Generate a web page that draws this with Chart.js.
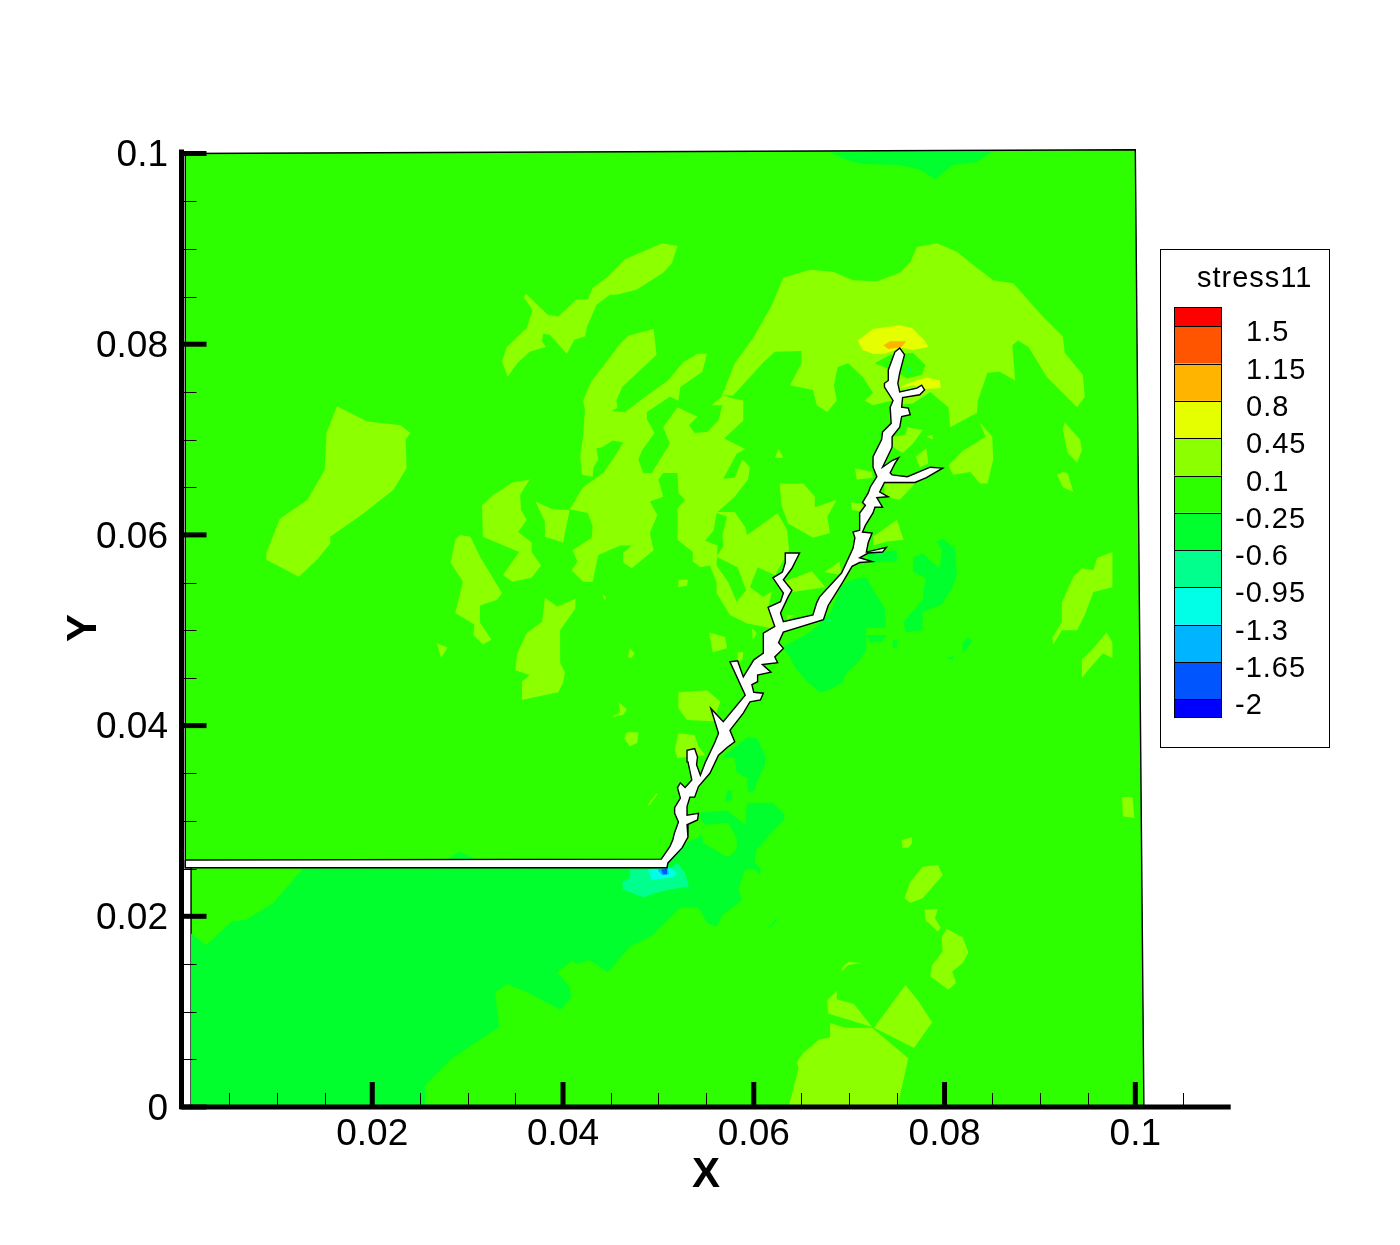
<!DOCTYPE html>
<html>
<head>
<meta charset="utf-8">
<title>stress11</title>
<script src="https://cdn.jsdelivr.net/npm/chart.js@4/dist/chart.umd.min.js"></script>
<style>
html, body { margin: 0; background: #fff; }
canvas { display: block; }
</style>
</head>
<body>
<canvas id="contour" width="1400" height="1245"></canvas>
<script>
// ticks
const xTicks = [0.02, 0.04, 0.06, 0.08, 0.1];
const yTicks = [0, 0.02, 0.04, 0.06, 0.08, 0.1];
const xMinor = [.005,.01,.015,.025,.03,.035,.045,.05,.055,.065,.07,.075,.085,.09,.095,.105];
const yMinor = [.005,.01,.015,.025,.03,.035,.045,.05,.055,.065,.07,.075,.085,.09,.095];

// legend levels and band colours, top to bottom
const levels = ['1.5','1.15','0.8','0.45','0.1','-0.25','-0.6','-0.95','-1.3','-1.65','-2'];
const bandColors = ['#ff0000','#ff5500','#ffb400','#e6ff00','#8cff00','#2dff00','#00ff2d','#00ff8c','#00ffe6','#00b4ff','#0055ff','#0000ff'];

// contour regions, [x, y] in metres
const domain = [[.0004,.1000],[.1000,.1004],[.1009,0],[.0010,0],[.0010,.0251],[.0004,.0251]];

const crack = [[.0004,.0259],[.0503,.0260],[.0512,.0273],[.0515,.0280],[.0517,.0288],[.0521,.0299],[.0517,.0308],[.0517,.0314],[.0523,.0324],[.0520,.0335],[.0523,.0340],[.0528,.0335],[.0535,.0343],[.0531,.0362],[.0530,.0374],[.0538,.0376],[.0541,.0367],[.0540,.0359],[.0544,.0348],[.0549,.0361],[.0559,.0382],[.0563,.0392],[.0555,.0418],[.0568,.0404],[.0591,.0432],[.0575,.0467],[.0583,.0468],[.0589,.0451],[.0600,.0469],[.0610,.0476],[.0610,.0497],[.0622,.0504],[.0615,.0524],[.0628,.0530],[.0631,.0539],[.0620,.0555],[.0630,.0561],[.0633,.0571],[.0633,.0581],[.0648,.0581],[.0640,.0565],[.0631,.0553],[.0640,.0542],[.0636,.0535],[.0628,.0518],[.0631,.0509],[.0662,.0516],[.0666,.0529],[.0669,.0535],[.0692,.0560],[.0704,.0586],[.0706,.0597],[.0704,.0603],[.0711,.0605],[.0711,.0623],[.0717,.0631],[.0714,.0634],[.0720,.0644],[.0722,.0650],[.0729,.0661],[.0725,.0671],[.0725,.0682],[.0734,.0700],[.0735,.0708],[.0744,.0717],[.0743,.0734],[.0746,.0741],[.0737,.0755],[.0737,.0759],[.0741,.0762],[.0741,.0773],[.0748,.0792],[.0753,.0796],[.0758,.0789],[.0753,.0770],[.0751,.0759],[.0753,.0750],[.0771,.0754],[.0776,.0757],[.0779,.0752],[.0774,.0747],[.0756,.0744],[.0755,.0734],[.0762,.0733],[.0764,.0726],[.0755,.0724],[.0753,.0713],[.0745,.0703],[.0745,.0692],[.0735,.0671],[.0745,.0678],[.0752,.0681],[.0748,.0675],[.0743,.0665],[.0745,.0663],[.0761,.0661],[.0785,.0671],[.0798,.0670],[.0781,.0660],[.0769,.0655],[.0737,.0655],[.0732,.0645],[.0741,.0640],[.0729,.0639],[.0735,.0629],[.0727,.0629],[.0725,.0623],[.0717,.0610],[.0714,.0603],[.0724,.0602],[.0720,.0592],[.0718,.0582],[.0739,.0587],[.0735,.0582],[.0720,.0581],[.0711,.0576],[.0724,.0572],[.0711,.0571],[.0703,.0567],[.0693,.0550],[.0678,.0526],[.0673,.0511],[.0631,.0498],[.0626,.0487],[.0631,.0481],[.0622,.0472],[.0625,.0466],[.0609,.0464],[.0618,.0456],[.0604,.0453],[.0604,.0446],[.0598,.0443],[.0600,.0435],[.0610,.0434],[.0607,.0427],[.0596,.0425],[.0589,.0413],[.0575,.0395],[.0580,.0383],[.0572,.0377],[.0563,.0369],[.0554,.0350],[.0542,.0336],[.0538,.0325],[.0533,.0325],[.0530,.0315],[.0530,.0306],[.0542,.0308],[.0541,.0301],[.0530,.0296],[.0531,.0283],[.0525,.0272],[.0510,.0256],[.0509,.0251],[.0004,.0251]];

// -0.25 band
const lowerBand = [[.0127,.0250],[.0096,.0214],[.0067,.0196],[.0053,.0195],[.0026,.0170],[.0010,.0182],[.0010,0],[.0256,0],[.0255,.0022],[.0284,.0051],[.0333,.0084],[.0329,.0120],[.0341,.0129],[.0363,.0120],[.0397,.0102],[.0409,.0115],[.0407,.0126],[.0394,.0141],[.0410,.0154],[.0413,.0150],[.0428,.0154],[.0447,.0141],[.0470,.0168],[.0494,.0180],[.0499,.0186],[.0523,.0209],[.0542,.0209],[.0551,.0193],[.0561,.0189],[.0567,.0201],[.0588,.0217],[.0584,.0228],[.0591,.0249],[.0601,.0249],[.0607,.0243],[.0607,.0251],[.0601,.0256],[.0603,.0270],[.0612,.0280],[.0631,.0301],[.0633,.0306],[.0620,.0319],[.0593,.0319],[.0591,.0296],[.0572,.0311],[.0546,.0309],[.0542,.0306],[.0549,.0296],[.0573,.0298],[.0582,.0282],[.0582,.0270],[.0573,.0262],[.0547,.0277],[.0546,.0285],[.0531,.0278],[.0525,.0272],[.0510,.0256],[.0509,.0251]];
const topBand = [[.0680,.1001],[.0698,.0993],[.0715,.0989],[.0753,.0988],[.0774,.0983],[.0790,.0973],[.0809,.0988],[.0834,.0991],[.0850,.1002]];
const coolPatches = [
  [[.0279,.0260],[.0292,.0268],[.0308,.0260],[.0308,.0251],[.0279,.0251]],
  [[.0792,.0593],[.0798,.0596],[.0811,.0586],[.0813,.0558],[.0808,.0544],[.0797,.0527],[.0777,.0519],[.0777,.0500],[.0759,.0498],[.0757,.0509],[.0777,.0532],[.0780,.0555],[.0767,.0561],[.0767,.0576],[.0777,.0581],[.0787,.0571],[.0795,.0565],[.0797,.0584]],
  [[.0718,.0556],[.0727,.0539],[.0737,.0524],[.0739,.0503],[.0718,.0502],[.0718,.0479],[.0709,.0466],[.0697,.0455],[.0693,.0445],[.0678,.0437],[.0669,.0435],[.0656,.0446],[.0643,.0461],[.0638,.0472],[.0630,.0482],[.0648,.0492],[.0659,.0498],[.0680,.0518],[.0692,.0547],[.0703,.0553]],
  [[.0718,.0495],[.0739,.0495],[.0735,.0488],[.0722,.0487]],
  [[.0746,.0490],[.0750,.0490],[.0750,.0482],[.0746,.0482]],
  [[.0819,.0487],[.0825,.0493],[.0829,.0488],[.0819,.0476]],
  [[.0802,.0470],[.0809,.0473],[.0809,.0469]],
  [[.0718,.0581],[.0750,.0584],[.0750,.0572],[.0727,.0571],[.0720,.0572]],
  [[.0650,.0586],[.0669,.0577],[.0650,.0572]],
  [[.0614,.0186],[.0622,.0196],[.0625,.0196],[.0618,.0189]],
  [[.0568,.0367],[.0593,.0388],[.0603,.0387],[.0612,.0369],[.0612,.0359],[.0603,.0340],[.0601,.0332],[.0594,.0330],[.0593,.0345],[.0582,.0351],[.0580,.0366]],
  [[.0572,.0332],[.0577,.0332],[.0577,.0322],[.0570,.0320]]
];

// 0.45 band, the big arch and the block left of the crack
const lightArch = [[.0495,.0816],[.0468,.0809],[.0457,.0797],[.0449,.0786],[.0429,.0760],[.0421,.0741],[.0423,.0731],[.0421,.0703],[.0418,.0682],[.0420,.0663],[.0431,.0661],[.0432,.0671],[.0437,.0679],[.0435,.0691],[.0441,.0692],[.0452,.0699],[.0463,.0697],[.0452,.0679],[.0442,.0665],[.0421,.0650],[.0407,.0627],[.0426,.0623],[.0431,.0609],[.0430,.0597],[.0410,.0584],[.0415,.0572],[.0409,.0563],[.0421,.0551],[.0431,.0551],[.0437,.0579],[.0460,.0589],[.0472,.0589],[.0463,.0581],[.0463,.0571],[.0472,.0565],[.0495,.0584],[.0491,.0602],[.0499,.0621],[.0491,.0635],[.0505,.0640],[.0500,.0658],[.0505,.0665],[.0520,.0665],[.0521,.0644],[.0528,.0637],[.0520,.0628],[.0520,.0595],[.0536,.0582],[.0536,.0572],[.0544,.0566],[.0554,.0568],[.0561,.0550],[.0561,.0539],[.0575,.0516],[.0593,.0507],[.0604,.0505],[.0628,.0500],[.0648,.0505],[.0669,.0521],[.0711,.0605],[.0732,.0658],[.0745,.0741],[.0753,.0736],[.0767,.0738],[.0785,.0750],[.0804,.0734],[.0806,.0713],[.0834,.0728],[.0835,.0741],[.0845,.0770],[.0858,.0771],[.0874,.0762],[.0871,.0799],[.0877,.0804],[.0888,.0797],[.0907,.0766],[.0939,.0734],[.0947,.0745],[.0945,.0768],[.0926,.0791],[.0924,.0808],[.0903,.0829],[.0872,.0864],[.0851,.0867],[.0830,.0883],[.0813,.0897],[.0792,.0906],[.0771,.0902],[.0764,.0886],[.0753,.0875],[.0729,.0866],[.0704,.0867],[.0683,.0876],[.0659,.0878],[.0631,.0870],[.0619,.0841],[.0599,.0806],[.0580,.0780],[.0567,.0747],[.0565,.0744],[.0556,.0736],[.0567,.0736],[.0563,.0720],[.0551,.0708],[.0538,.0707],[.0532,.0715],[.0541,.0724],[.0520,.0734],[.0505,.0713],[.0512,.0696],[.0493,.0665],[.0484,.0665],[.0479,.0679],[.0483,.0689],[.0496,.0707],[.0488,.0721],[.0488,.0729],[.0512,.0745],[.0521,.0741],[.0523,.0755],[.0546,.0771],[.0551,.0790],[.0541,.0790],[.0526,.0781],[.0510,.0762],[.0499,.0754],[.0478,.0739],[.0465,.0729],[.0451,.0730],[.0457,.0733],[.0456,.0741],[.0462,.0755],[.0478,.0770],[.0498,.0789]];

// 0.1 band showing through the arch
const archHoles = [
  [[.0650,.0793],[.0622,.0792],[.0610,.0781],[.0591,.0760],[.0578,.0746],[.0567,.0747],[.0578,.0743],[.0589,.0741],[.0589,.0720],[.0569,.0701],[.0591,.0690],[.0582,.0685],[.0568,.0659],[.0580,.0660],[.0588,.0679],[.0596,.0671],[.0594,.0658],[.0580,.0640],[.0562,.0624],[.0580,.0624],[.0591,.0608],[.0593,.0600],[.0625,.0623],[.0635,.0605],[.0637,.0584],[.0624,.0561],[.0622,.0553],[.0615,.0524],[.0628,.0500],[.0648,.0505],[.0669,.0521],[.0711,.0605],[.0732,.0658],[.0745,.0741],[.0725,.0736],[.0716,.0741],[.0725,.0749],[.0714,.0766],[.0699,.0780],[.0688,.0776],[.0684,.0757],[.0687,.0741],[.0677,.0729],[.0666,.0736],[.0662,.0752],[.0638,.0757],[.0650,.0780]],
  [[.0561,.0623],[.0572,.0619],[.0567,.0600],[.0568,.0588],[.0561,.0577],[.0583,.0566],[.0592,.0542],[.0582,.0530],[.0573,.0551],[.0561,.0568],[.0562,.0589],[.0549,.0594],[.0558,.0605]],
  [[.0604,.0566],[.0596,.0545],[.0610,.0535],[.0624,.0544],[.0622,.0558]],
  [[.0727,.0780],[.0743,.0789],[.0767,.0791],[.0780,.0778],[.0776,.0768],[.0761,.0764],[.0750,.0770]]
];

const lightPatches = [
  [[.0163,.0735],[.0195,.0719],[.0230,.0715],[.0240,.0707],[.0235,.0700],[.0236,.0670],[.0222,.0647],[.0190,.0622],[.0156,.0598],[.0156,.0591],[.0142,.0574],[.0123,.0556],[.0089,.0574],[.0089,.0581],[.0103,.0617],[.0132,.0637],[.0150,.0668],[.0152,.0707]],
  [[.0520,.0903],[.0514,.0885],[.0505,.0875],[.0477,.0857],[.0456,.0852],[.0449,.0852],[.0435,.0841],[.0425,.0818],[.0423,.0808],[.0412,.0805],[.0404,.0790],[.0386,.0810],[.0379,.0811],[.0378,.0803],[.0382,.0797],[.0365,.0792],[.0352,.0780],[.0342,.0766],[.0336,.0782],[.0341,.0797],[.0362,.0817],[.0368,.0836],[.0359,.0849],[.0361,.0853],[.0384,.0831],[.0395,.0829],[.0414,.0847],[.0426,.0847],[.0431,.0859],[.0446,.0870],[.0465,.0889],[.0483,.0897],[.0504,.0906]],
  [[.0627,.0654],[.0652,.0654],[.0664,.0640],[.0664,.0629],[.0687,.0637],[.0677,.0619],[.0680,.0602],[.0662,.0597],[.0636,.0612],[.0629,.0631]],
  [[.0626,.0690],[.0631,.0681],[.0622,.0681]],
  [[.0706,.0670],[.0724,.0666],[.0725,.0660],[.0708,.0658]],
  [[.0702,.0634],[.0714,.0633],[.0715,.0624],[.0703,.0626]],
  [[.0725,.0598],[.0750,.0616],[.0757,.0595],[.0740,.0593],[.0725,.0589]],
  [[.0631,.0551],[.0661,.0562],[.0675,.0545],[.0633,.0539]],
  [[.0674,.0561],[.0690,.0572],[.0692,.0558]],
  [[.0635,.0516],[.0643,.0516],[.0635,.0511]],
  [[.0837,.0718],[.0850,.0703],[.0851,.0679],[.0845,.0654],[.0837,.0654],[.0827,.0666],[.0809,.0663],[.0804,.0673],[.0820,.0689],[.0832,.0696],[.0843,.0703]],
  [[.0926,.0718],[.0942,.0700],[.0944,.0689],[.0939,.0676],[.0929,.0686],[.0924,.0710]],
  [[.0924,.0666],[.0929,.0665],[.0935,.0645],[.0924,.0650],[.0918,.0663]],
  [[.0737,.0654],[.0769,.0654],[.0753,.0637],[.0737,.0640]],
  [[.0770,.0682],[.0781,.0691],[.0783,.0675],[.0774,.0671]],
  [[.0781,.0703],[.0787,.0705],[.0788,.0700]],
  [[.0761,.0713],[.0777,.0710],[.0767,.0696],[.0756,.0686],[.0746,.0692],[.0746,.0703],[.0759,.0705]],
  [[.0976,.0582],[.0976,.0545],[.0956,.0540],[.0947,.0516],[.0939,.0500],[.0923,.0500],[.0914,.0485],[.0913,.0492],[.0923,.0509],[.0923,.0529],[.0935,.0556],[.0944,.0565],[.0956,.0563],[.0960,.0576]],
  [[.0970,.0498],[.0976,.0487],[.0976,.0471],[.0966,.0476],[.0952,.0460],[.0944,.0450],[.0944,.0469],[.0956,.0481]],
  [[.0755,.0280],[.0766,.0283],[.0766,.0277],[.0762,.0272],[.0756,.0272]],
  [[.0777,.0252],[.0793,.0254],[.0798,.0243],[.0777,.0219],[.0764,.0214],[.0758,.0219],[.0764,.0236]],
  [[.0779,.0207],[.0793,.0208],[.0790,.0198],[.0796,.0188],[.0793,.0184],[.0780,.0196]],
  [[.0802,.0187],[.0819,.0178],[.0825,.0162],[.0819,.0151],[.0808,.0142],[.0812,.0130],[.0804,.0123],[.0785,.0137],[.0787,.0149],[.0798,.0163],[.0797,.0178]],
  [[.0759,.0128],[.0772,.0112],[.0787,.0089],[.0768,.0062],[.0726,.0083]],
  [[.0687,.0122],[.0687,.0113],[.0705,.0108],[.0724,.0084],[.0678,.0098],[.0677,.0112]],
  [[.0680,.0088],[.0696,.0083],[.0724,.0083],[.0762,.0051],[.0751,.0002],[.0637,.0002],[.0647,.0041],[.0645,.0047],[.0652,.0057],[.0669,.0071],[.0680,.0073]],
  [[.0699,.0152],[.0713,.0151],[.0699,.0149],[.0692,.0142],[.0693,.0147]],
  [[.0986,.0325],[.0997,.0325],[.0999,.0303],[.0987,.0305]],
  [[.0292,.0600],[.0303,.0598],[.0313,.0577],[.0336,.0539],[.0331,.0532],[.0313,.0526],[.0313,.0508],[.0325,.0490],[.0316,.0485],[.0306,.0495],[.0307,.0506],[.0287,.0518],[.0295,.0551],[.0282,.0571],[.0287,.0595]],
  [[.0315,.0631],[.0327,.0642],[.0347,.0655],[.0365,.0658],[.0355,.0642],[.0356,.0626],[.0362,.0616],[.0353,.0603],[.0367,.0592],[.0367,.0582],[.0377,.0568],[.0367,.0555],[.0347,.0551],[.0337,.0558],[.0354,.0582],[.0316,.0598]],
  [[.0381,.0534],[.0394,.0525],[.0413,.0533],[.0413,.0523],[.0397,.0500],[.0397,.0466],[.0402,.0456],[.0400,.0445],[.0395,.0435],[.0358,.0427],[.0357,.0446],[.0365,.0453],[.0350,.0458],[.0352,.0476],[.0362,.0497],[.0378,.0509]],
  [[.0371,.0635],[.0389,.0627],[.0407,.0626],[.0400,.0592],[.0381,.0598],[.0381,.0614]],
  [[.0268,.0486],[.0279,.0482],[.0272,.0471]],
  [[.0441,.0538],[.0445,.0535],[.0444,.0531]],
  [[.0470,.0481],[.0475,.0476],[.0472,.0471],[.0468,.0472]],
  [[.0458,.0425],[.0467,.0417],[.0463,.0411],[.0451,.0409],[.0460,.0414]],
  [[.0467,.0393],[.0479,.0393],[.0478,.0382],[.0470,.0378],[.0464,.0387]],
  [[.0521,.0553],[.0531,.0553],[.0530,.0547],[.0521,.0545]],
  [[.0553,.0498],[.0570,.0493],[.0572,.0481],[.0557,.0477]],
  [[.0583,.0477],[.0589,.0477],[.0588,.0469],[.0583,.0467]],
  [[.0598,.0502],[.0603,.0497],[.0599,.0490]],
  [[.0521,.0435],[.0551,.0437],[.0565,.0425],[.0558,.0406],[.0568,.0404],[.0530,.0406],[.0521,.0418]],
  [[.0521,.0392],[.0538,.0390],[.0542,.0378],[.0549,.0369],[.0520,.0366],[.0517,.0374]],
  [[.0489,.0317],[.0498,.0329],[.0499,.0328],[.0490,.0316]]
];

// 0.8 and 1.15 spots at the upper crack tip
const yellowSpots = [
  [[.0709,.0804],[.0725,.0816],[.0753,.0820],[.0766,.0817],[.0779,.0804],[.0783,.0797],[.0767,.0794],[.0756,.0796],[.0737,.0790],[.0725,.0790],[.0714,.0794]],
  [[.0753,.0754],[.0762,.0759],[.0781,.0765],[.0795,.0762],[.0796,.0754],[.0781,.0753],[.0767,.0757]]
];
const orangeSpot = [[.0736,.0799],[.0743,.0803],[.0760,.0803],[.0755,.0797],[.0741,.0795]];

// stress concentration at the notch tip
const notchBand1 = [[.0470,.0249],[.0491,.0249],[.0510,.0249],[.0520,.0256],[.0528,.0245],[.0532,.0231],[.0512,.0228],[.0499,.0225],[.0484,.0220],[.0463,.0228],[.0462,.0236],[.0470,.0240]];
const notchBand2 = [[.0489,.0249],[.0512,.0251],[.0520,.0245],[.0515,.0241],[.0507,.0240],[.0493,.0238]];
const notchBand3 = [[.0499,.0249],[.0510,.0251],[.0511,.0244],[.0504,.0243]];
const notchBand4 = [[.0503,.0249],[.0509,.0250],[.0509,.0244],[.0505,.0244]];
const tinySpots = [
  [[.0761,.0776],[.0766,.0773],[.0763,.0771]],
  [[.0677,.0511],[.0683,.0510],[.0683,.0509],[.0677,.0510]]
];

const base = bandColors[5], light = bandColors[4], cool = bandColors[6], cool2 = bandColors[7];

// drawing order, bottom to top
const layers = [
  { pts: domain, color: base, outline: true },
  { pts: lowerBand, color: cool },
  { pts: topBand, color: cool },
  ...coolPatches.map(p => ({ pts: p, color: cool })),
  { pts: lightArch, color: light },
  ...archHoles.map(p => ({ pts: p, color: base })),
  ...lightPatches.map(p => ({ pts: p, color: light })),
  ...yellowSpots.map(p => ({ pts: p, color: bandColors[3] })),
  { pts: orangeSpot, color: bandColors[2] },
  ...tinySpots.map(p => ({ pts: p, color: cool2 })),
  { pts: notchBand1, color: cool2 },
  { pts: notchBand2, color: bandColors[8] },
  { pts: notchBand3, color: bandColors[9] },
  { pts: notchBand4, color: bandColors[10] },
  { pts: crack, color: '#ffffff', outline: true }
];

const datasets = layers.map((l, i) => {
  const closed = l.pts.concat([l.pts[0]]);
  return {
    data: closed.map(p => ({ x: p[0], y: p[1] })),
    showLine: true,
    fill: 'shape',
    backgroundColor: l.color,
    borderColor: l.outline ? '#000000' : l.color,
    borderWidth: l.outline ? 1.4 : 0,
    pointRadius: 0,
    tension: 0,
    clip: false,
    order: layers.length - i   // chart.js paints high order first
  };
});

// tecplot style axes: ticks inside the frame
const axesPlugin = {
  id: 'innerAxes',
  afterDatasetsDraw(chart) {
    const c = chart.ctx, xs = chart.scales.x, ys = chart.scales.y;
    const x0 = xs.getPixelForValue(0), y0 = ys.getPixelForValue(0);
    c.save();
    c.strokeStyle = '#000';
    c.lineWidth = 1;
    xMinor.forEach(v => {
      const p = Math.round(xs.getPixelForValue(v)) + 0.5;
      c.beginPath(); c.moveTo(p, y0); c.lineTo(p, y0 - 14); c.stroke();
    });
    yMinor.forEach(v => {
      const p = Math.round(ys.getPixelForValue(v)) + 0.5;
      c.beginPath(); c.moveTo(x0, p); c.lineTo(x0 + 15, p); c.stroke();
    });
    c.lineWidth = 5;
    xTicks.forEach(v => {
      const p = xs.getPixelForValue(v);
      c.beginPath(); c.moveTo(p, y0); c.lineTo(p, y0 - 25); c.stroke();
    });
    yTicks.forEach(v => {
      const p = ys.getPixelForValue(v);
      c.beginPath(); c.moveTo(x0, p); c.lineTo(x0 + 25, p); c.stroke();
    });
    c.beginPath();
    c.moveTo(x0, y0 + 2);
    c.lineTo(x0, ys.getPixelForValue(0.1) - 4);
    c.moveTo(x0 - 2, y0);
    c.lineTo(xs.getPixelForValue(0.11), y0);
    c.stroke();
    c.restore();
  }
};

const legendPlugin = {
  id: 'bandLegend',
  afterDraw(chart) {
    const c = chart.ctx;
    const boxLeft = 1160.5, boxTop = 249.5, barLeft = 1174, barW = 48;
    const top = 307.3, first = 326.3, step = 37.3;
    c.save();
    c.fillStyle = '#fff';
    c.strokeStyle = '#000';
    c.lineWidth = 1;
    c.fillRect(boxLeft, boxTop, 169, 498);
    c.strokeRect(boxLeft, boxTop, 169, 498);
    c.fillStyle = '#000';
    c.font = '29px "Liberation Sans"';
    c.letterSpacing = '1px';
    c.textBaseline = 'alphabetic';
    c.textAlign = 'left';
    c.fillText('stress11', 1197, 287);
    bandColors.forEach((col, i) => {
      const y1 = i === 0 ? top : first + (i - 1) * step;
      const y2 = i === bandColors.length - 1 ? 717.3 : first + i * step;
      c.fillStyle = col;
      c.fillRect(barLeft, y1, barW, y2 - y1);
      c.strokeRect(barLeft + 0.5, Math.round(y1) + 0.5, barW - 1, Math.round(y2) - Math.round(y1));
    });
    c.fillStyle = '#000';
    levels.forEach((t, i) => {
      const x = t[0] === '-' ? 1235 : 1246;
      c.fillText(t, x, first + i * step + 15);
    });
    c.restore();
  }
};

new Chart(document.getElementById('contour'), {
  type: 'scatter',
  data: { datasets },
  plugins: [axesPlugin, legendPlugin],
  options: {
    responsive: false,
    animation: false,
    layout: { padding: { left: 0, top: 148.75, right: 169.3, bottom: 0 } },
    plugins: { legend: { display: false }, tooltip: { enabled: false } },
    scales: {
      x: {
        type: 'linear',
        min: 0,
        max: 0.11,
        grid: { display: false },
        border: { display: false },
        afterFit(s) { s.height = 138; },
        afterBuildTicks(s) { s.ticks = xTicks.map(v => ({ value: v })); },
        ticks: {
          autoSkip: false, maxRotation: 0, padding: -2, color: '#000',
          font: { family: 'Liberation Sans', size: 37 },
          callback: v => String(v)
        },
        title: {
          display: true, text: 'X', color: '#000', padding: { top: 0, bottom: 44 },
          font: { family: 'Liberation Sans', size: 42, weight: 'bold' }
        }
      },
      y: {
        type: 'linear',
        min: 0,
        max: 0.1005,
        grid: { display: false },
        border: { display: false },
        afterFit(s) { s.width = 181.5; },
        afterBuildTicks(s) { s.ticks = yTicks.map(v => ({ value: v })); },
        ticks: {
          autoSkip: false, padding: 5.5, labelOffset: 2.5, color: '#000',
          font: { family: 'Liberation Sans', size: 37 },
          callback: v => String(v)
        },
        title: {
          display: true, text: 'Y', color: '#000', padding: { top: 59, bottom: 0 },
          font: { family: 'Liberation Sans', size: 42, weight: 'bold' }
        }
      }
    }
  }
});
</script>
</body>
</html>
